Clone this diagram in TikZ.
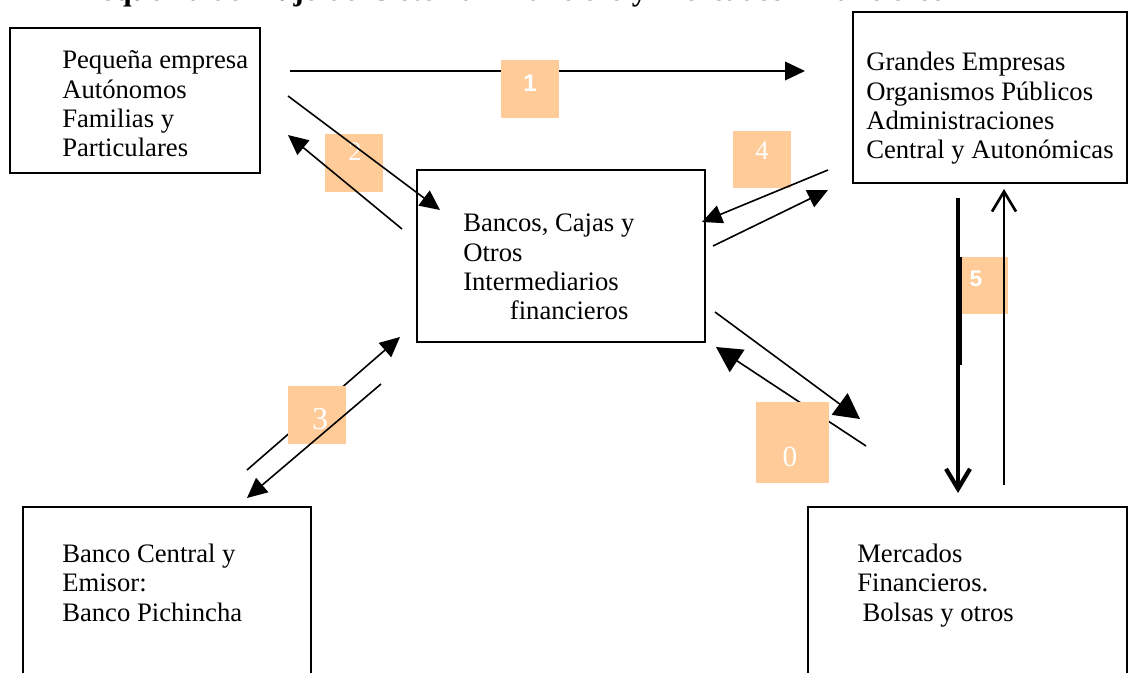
\documentclass[tikz,border=0pt]{standalone}
\usepackage{fontspec}
\setmainfont{Liberation Serif}
\newfontfamily\arialfont{Liberation Sans}
\usetikzlibrary{arrows.meta, positioning, fit}
\definecolor{numOrange}{HTML}{FFCC99}
\tikzset{
  flowArrow/.style={-{Triangle[length=15pt, width=14pt]}, line width=1.2pt},
  flowBig/.style={-{Triangle[length=19pt, width=20pt]}, line width=1.2pt},
  flowBarb/.style={-{Straight Barb[length=15pt, width=18pt]}},
  entBox/.style={rectangle, draw, line width=1.2pt, inner sep=0pt},
  entText/.style={align=left, inner sep=0pt, anchor=base west,
                  font=\fontsize{20}{22}\selectfont},
  titleText/.style={inner sep=0pt, anchor=base west,
                    font=\fontsize{23}{24}\selectfont\bfseries},
  numBox/.style={rectangle, fill=numOrange, inner sep=0pt},
  numSerif/.style={text=white, inner sep=0pt},
  numSans/.style={text=white, inner sep=0pt, font=\arialfont\bfseries},
}
\begin{document}
\begin{tikzpicture}[x=0.75pt, y=-0.75pt]
  \clip (0,0) rectangle (1129,673);
  % title, cut off at the top
  \node[titleText] (title) at (82,1)
    {Esquema del flujo del Sistema Financiero y Mercados Financieros};

  % boxes
  \node[entBox, fit={(10,28) (260,173)}] (peq) {};
  \node[entBox, fit={(853,12) (1127,183)}] (grand) {};
  \node[entBox, fit={(417,170) (705,342)}] (banc) {};
  \node[entBox, fit={(23,507) (311,700)}] (cent) {};
  \node[entBox, fit={(808,507) (1127,700)}] (merc) {};

  % texts, placed by the baseline of their last line
  \node[entText] (peqT) at (62,157)
    {Pequeña empresa\\Autónomos\\Familias y\\Particulares};
  \node[entText] (grandT) at (866,159)
    {Grandes Empresas\\Organismos Públicos\\Administraciones\\Central y Autonómicas};
  \node[entText] (bancT) at (463,320)
    {Bancos, Cajas y\\Otros\\Intermediarios\\\hspace*{35pt}financieros};
  \node[entText] (centT) at (62,621)
    {Banco Central y\\Emisor:\\Banco Pichincha};
  \node[entText] (mercT) at (857,621)
    {Mercados\\Financieros.\\\hspace*{4pt}Bolsas y otros};

  % arrow ends
  \coordinate (a1s) at (290,71);   \coordinate (a1e) at (805,71);
  \coordinate (a2s) at (288,96);   \coordinate (a2e) at (440,210);
  \coordinate (b2s) at (402,229);  \coordinate (b2e) at (288,135);
  \coordinate (a3s) at (247,470);  \coordinate (a3e) at (400,337);
  \coordinate (b3s) at (381,384);  \coordinate (b3e) at (247,498);
  \coordinate (a4s) at (828,170);  \coordinate (a4e) at (702,222);
  \coordinate (b4s) at (713,246);  \coordinate (b4e) at (828,190);
  \coordinate (a0s) at (715,312);  \coordinate (a0e) at (860,419);
  \coordinate (b0s) at (866,446);  \coordinate (b0e) at (716,347);
  \coordinate (a5s) at (958,198);  \coordinate (a5e) at (958,493);
  \coordinate (b5s) at (1004,485); \coordinate (b5e) at (1004,189);
  \coordinate (c5s) at (959,257);  \coordinate (c5e) at (959,365);

  % lines under the labels
  \draw[flowArrow] (a1s) -- (a1e);
  \draw[flowArrow] (a3s) -- (a3e);
  \draw[flowBig] (b0s) -- (b0e);

  % number labels
  \node[numBox, minimum width=43.5pt, minimum height=43.5pt] (n1) at (530,89) {};
  \node[numBox, minimum width=43.5pt, minimum height=43.5pt] (n2) at (354,163) {};
  \node[numBox, minimum width=43.5pt, minimum height=43.5pt] (n3) at (317,415) {};
  \node[numBox, minimum width=43.5pt, minimum height=42.75pt] (n4) at (762,159.5) {};
  \node[numBox, minimum width=54.75pt, minimum height=60.75pt] (n0) at (792.5,442.5) {};
  \node[numBox, minimum width=34.5pt, minimum height=42.75pt] (n5) at (985,285.5) {};
  \node[numSans, font=\arialfont\bfseries\fontsize{18}{18}\selectfont] (t1) at (530,83) {1};
  \node[numSerif, font=\fontsize{20}{20}\selectfont] (t2) at (355,152) {2};
  \node[numSerif, font=\fontsize{24}{24}\selectfont] (t3) at (320,419) {3};
  \node[numSerif, font=\fontsize{20}{20}\selectfont] (t4) at (762,151) {4};
  \node[numSerif, font=\fontsize{22}{22}\selectfont] (t0) at (790,457) {0};
  \node[numSans, font=\arialfont\bfseries\fontsize{17}{17}\selectfont] (t5) at (976,279) {5};

  % lines over the labels
  \draw[flowArrow] (a2s) -- (a2e);
  \draw[flowArrow] (b2s) -- (b2e);
  \draw[flowArrow] (b3s) -- (b3e);
  \draw[flowArrow] (a4s) -- (a4e);
  \draw[flowArrow] (b4s) -- (b4e);
  \draw[flowBig] (a0s) -- (a0e);
  \draw[flowBarb, line width=3.2pt] (a5s) -- (a5e);
  \draw[line width=4.5pt] (c5s) -- (c5e);
  \draw[flowBarb, line width=2pt] (b5s) -- (b5e);
\end{tikzpicture}
\end{document}
